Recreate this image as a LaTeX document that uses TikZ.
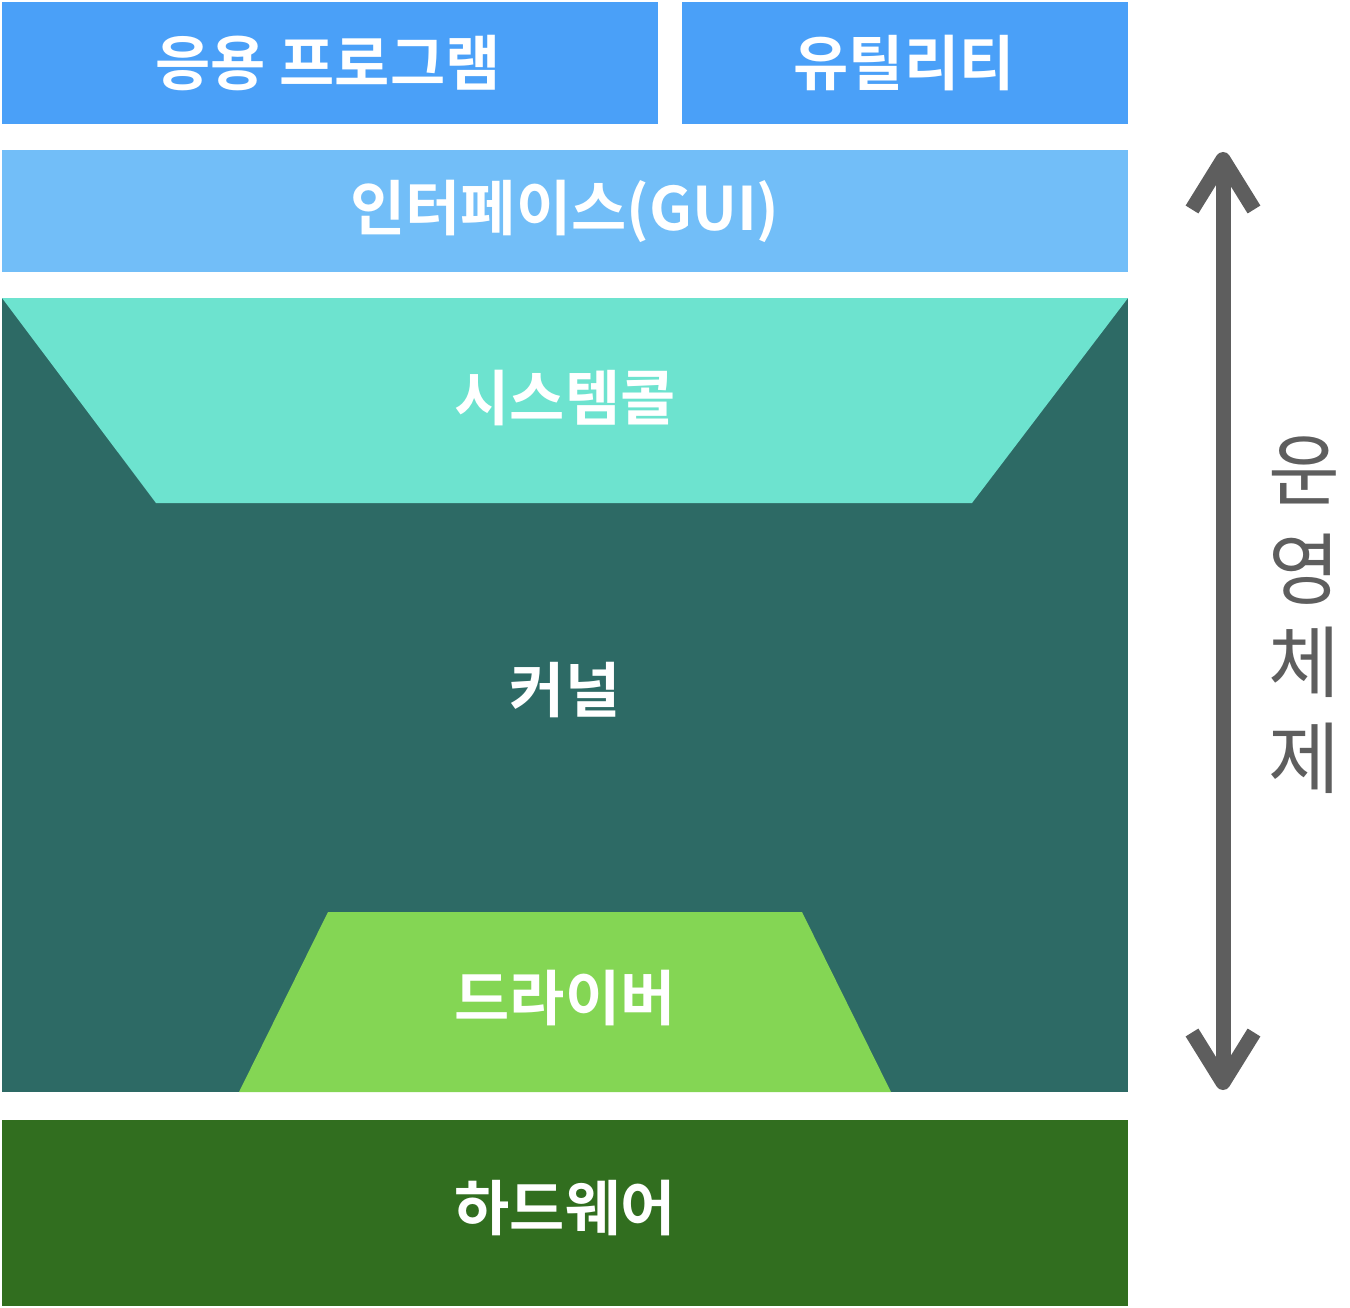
\documentclass[tikz,border=0pt]{standalone}
\usepackage{fontspec}
\newfontfamily\kr[BoldFont={Noto Sans CJK KR Bold}]{Noto Sans CJK KR}
\usetikzlibrary{arrows.meta}
\definecolor{appblue}{HTML}{4AA0F8}
\definecolor{guiblue}{HTML}{72BEF8}
\definecolor{kernelc}{HTML}{2D6A65}
\definecolor{syscallc}{HTML}{6DE3CF}
\definecolor{driverc}{HTML}{84D654}
\definecolor{hwc}{HTML}{316E1F}
\definecolor{osgray}{HTML}{5E5E5E}
\tikzset{
  lbl/.style={text=white,font=\kr\bfseries\fontsize{60}{62}\selectfont,inner sep=0pt},
  vlbl/.style={text=osgray,font=\kr\fontsize{78}{80}\selectfont,inner sep=0pt},
  osarrow/.style={osgray,line width=15,
    {Straight Barb[length=50,width=62,line width=15,line cap=butt,line join=round]}-{Straight Barb[length=50,width=62,line width=15,line cap=butt,line join=round]}},
}
\begin{document}
\begin{tikzpicture}[x=1pt,y=-1pt]
\useasboundingbox (0,0) rectangle (1350,1308);
\fill[appblue] (2,2) rectangle (658,124);
\node[lbl] (app) at (328,63) {응용 프로그램};
\fill[appblue] (682,2) rectangle (1128,124);
\node[lbl] (util) at (904,63) {유틸리티};
\fill[guiblue] (2,150) rectangle (1128,272);
\node[lbl] (gui) at (565,211) {인터페이스(GUI)};
\fill[kernelc] (2,298) rectangle (1128,1092);
\fill[syscallc] (2,298) -- (1128,298) -- (972,503) -- (156,503) -- cycle;
\node[lbl] (sys) at (565,398) {시스템콜};
\node[lbl] (kern) at (565,690) {커널};
\fill[driverc] (328,912) -- (802,912) -- (891,1092) -- (239,1092) -- cycle;
\node[lbl] (drv) at (565,998) {드라이버};
\fill[hwc] (2,1120) rectangle (1128,1306);
\node[lbl] (hw) at (565,1208) {하드웨어};
\coordinate (top) at (1223,152);
\coordinate (bot) at (1223,1090);
\draw[osarrow] (top) -- (bot);
\node[vlbl] (o1) at (1304,470) {운};
\node[vlbl] (o2) at (1304,569) {영};
\node[vlbl] (o3) at (1304,662) {체};
\node[vlbl] (o4) at (1304,758) {제};
\end{tikzpicture}
\end{document}
